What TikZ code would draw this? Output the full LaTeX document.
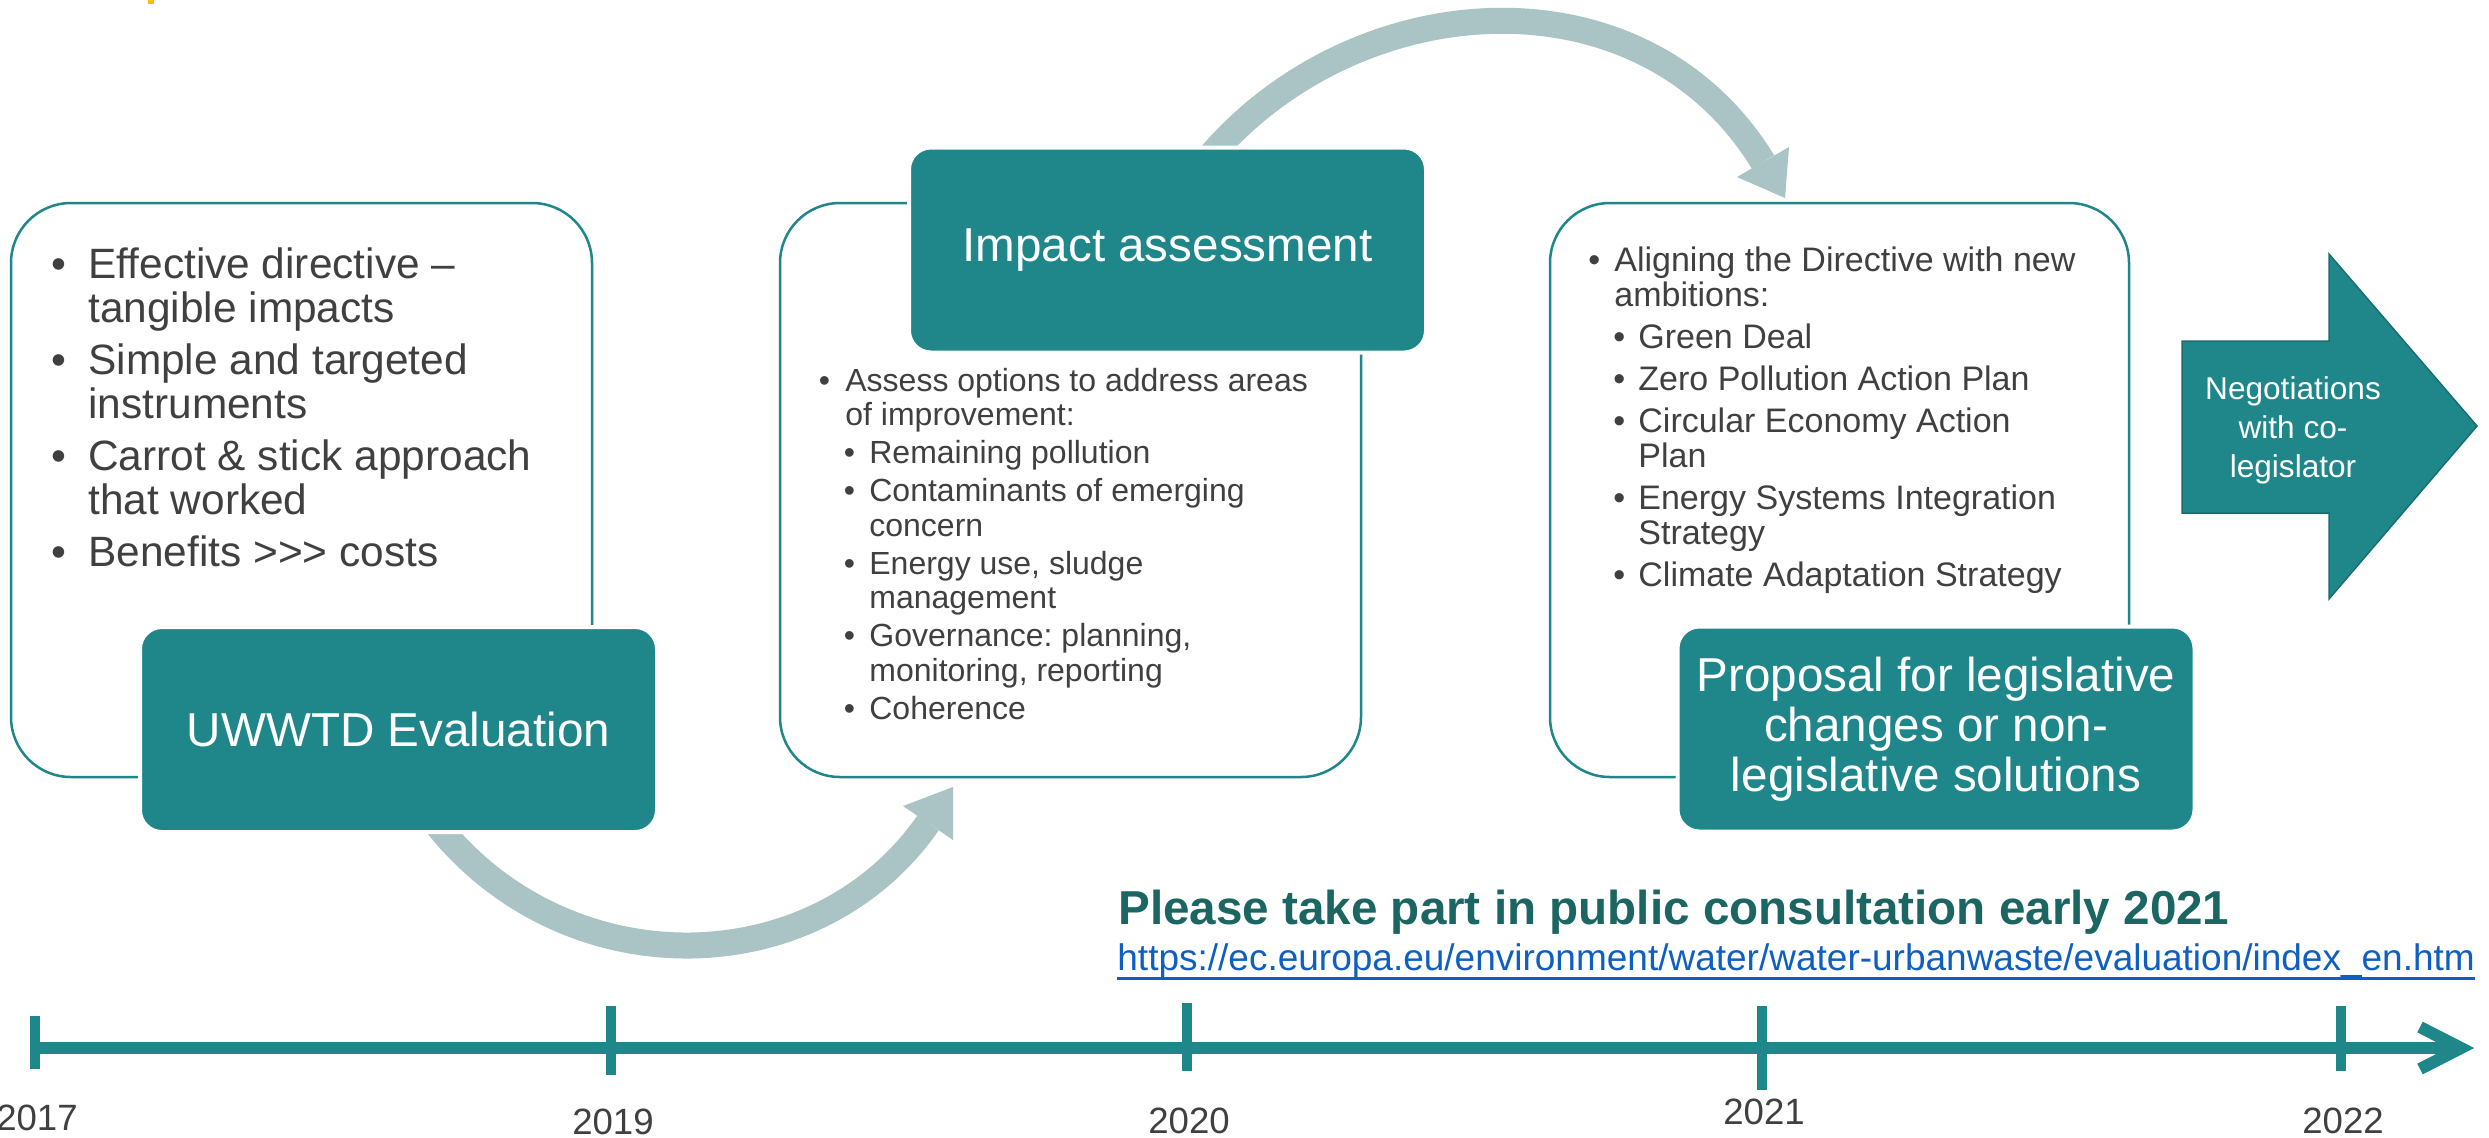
\documentclass[tikz,border=0pt]{standalone}
\usepackage{fontspec}
\setmainfont{Liberation Sans}
\definecolor{tealc}{HTML}{1F868A}
\definecolor{flowc}{HTML}{AAC3C4}
\definecolor{grayc}{HTML}{404040}
\definecolor{titlec}{HTML}{1B6563}
\definecolor{linkc}{HTML}{0F5FC2}
\definecolor{darktealc}{HTML}{1A6E70}
\definecolor{yellowc}{HTML}{FFC000}
\newcommand\bul[1]{\makebox[#1][l]{•}}
\begin{document}
\frenchspacing
\begin{tikzpicture}[x=0.5pt,y=-0.5pt,
  obox/.style={draw=tealc, line width=1.25pt, rounded corners=30pt, fill=white, inner sep=0pt},
  gbox/.style={fill=tealc, draw=white, line width=2pt, rounded corners=11pt,
    minimum width=258.5pt, minimum height=102.5pt, text=white,
    font=\fontsize{23.8pt}{25pt}\selectfont, align=center, inner sep=0pt},
  txt/.style={anchor=base west, inner sep=0pt, text=grayc},
  flow/.style={draw=flowc, line width=13pt},
  flowhead/.style={fill=flowc},
  tline/.style={draw=tealc, line width=6pt},
  tickln/.style={draw=tealc, line width=5pt},
  year/.style={anchor=base, inner sep=0pt, text=grayc, font=\fontsize{18.3pt}{20pt}\selectfont}]

\path[use as bounding box, fill=white] (0,0) rectangle (2489,1137);
\fill[yellowc] (148,0) rectangle (154,4);

% outline boxes
\node[obox, minimum width=290.5pt, minimum height=287pt] (b1) at (301.5,490) {};
\node[obox, minimum width=290.5pt, minimum height=287pt] (b2) at (1070.5,490) {};
\node[obox, minimum width=289.5pt, minimum height=287pt] (b3) at (1839.5,490) {};

% curved flow arrows
\coordinate (a1s) at (419,800);
\coordinate (a1b) at (928,823);
\coordinate (a1t) at (953,787);
\coordinate (a1l) at (903,806);
\coordinate (a1r) at (953,840);
\draw[flow] (a1s) .. controls (545,990) and (812,990) .. (a1b);
\fill[flowhead] (a1t) -- (a1l) -- (a1r) -- cycle;

\coordinate (a2s) at (1195,175);
\coordinate (a2b) at (1763,162);
\coordinate (a2t) at (1785,198);
\coordinate (a2l) at (1737,177);
\coordinate (a2r) at (1789,147);
\draw[flow] (a2s) .. controls (1338,-15) and (1639,-41) .. (a2b);
\fill[flowhead] (a2t) -- (a2l) -- (a2r) -- cycle;

% green boxes
\node[gbox] (g1) at (398.5,729.5) {UWWTD Evaluation};
\node[gbox] (g2) at (1167.5,250) {Impact assessment};
\node[gbox] (g3) at (1936,729) {Proposal for legislative\\changes or non-\\legislative solutions};

% box texts
\node[txt, font=\fontsize{21.2pt}{22pt}\selectfont] (t1) at (50.6,278) {\begin{tabular}[t]{@{}l@{}}
\bul{18.7pt}Effective directive –\\
\hspace*{18.7pt}tangible impacts\\[4pt]
\bul{18.7pt}Simple and targeted\\
\hspace*{18.7pt}instruments\\[4pt]
\bul{18.7pt}Carrot \& stick approach\\
\hspace*{18.7pt}that worked\\[4pt]
\bul{18.7pt}Benefits >{}>{}> costs
\end{tabular}};

\node[txt, font=\fontsize{16pt}{17.25pt}\selectfont] (t2) at (818.4,391) {\begin{tabular}[t]{@{}l@{}}
\bul{13.3pt}Assess options to address areas\\
\hspace*{13.3pt}of improvement:\\[1.75pt]
\hspace*{12.5pt}\bul{12.8pt}Remaining pollution\\[1.75pt]
\hspace*{12.5pt}\bul{12.8pt}Contaminants of emerging\\
\hspace*{25.3pt}concern\\[1.75pt]
\hspace*{12.5pt}\bul{12.8pt}Energy use, sludge\\
\hspace*{25.3pt}management\\[1.75pt]
\hspace*{12.5pt}\bul{12.8pt}Governance: planning,\\
\hspace*{25.3pt}monitoring, reporting\\[1.75pt]
\hspace*{12.5pt}\bul{12.8pt}Coherence
\end{tabular}};

\node[txt, font=\fontsize{17pt}{17.5pt}\selectfont] (t3) at (1588,271) {\begin{tabular}[t]{@{}l@{}}
\bul{13pt}Aligning the Directive with new\\
\hspace*{13pt}ambitions:\\[3.5pt]
\hspace*{12.5pt}\bul{12.5pt}Green Deal\\[3.5pt]
\hspace*{12.5pt}\bul{12.5pt}Zero Pollution Action Plan\\[3.5pt]
\hspace*{12.5pt}\bul{12.5pt}Circular Economy Action\\
\hspace*{25pt}Plan\\[3.5pt]
\hspace*{12.5pt}\bul{12.5pt}Energy Systems Integration\\
\hspace*{25pt}Strategy\\[3.5pt]
\hspace*{12.5pt}\bul{12.5pt}Climate Adaptation Strategy
\end{tabular}};

% negotiations arrow
\filldraw[fill=tealc, draw=darktealc, line width=0.75pt, line join=miter]
  (2182,341) -- (2329,341) -- (2329,254) -- (2477,426) -- (2329,599) -- (2329,513) -- (2182,513) -- cycle;
\node[inner sep=0pt, text=white, align=center, font=\fontsize{15.8pt}{19.5pt}\selectfont] (neg) at (2293,430) {Negotiations\\with co-\\legislator};

% consultation
\node[anchor=base west, inner sep=0pt, text=titlec, font=\fontsize{23.8pt}{26pt}\selectfont\bfseries] (title) at (1118,924) {Please take part in public consultation early 2021};
\node[anchor=base west, inner sep=0pt, text=linkc, font=\fontsize{18.5pt}{20pt}\selectfont] (url) at (1117,970) {https://ec.europa.eu/environment/water/water-urbanwaste/evaluation/index\_en.htm};
\draw[linkc, line width=1.75pt] ([yshift=-4.2pt]url.base west) -- ([yshift=-4.2pt]url.base east);

% timeline
\coordinate (tla) at (30,1048);
\coordinate (tlb) at (2458,1048);
\draw[tline] (tla) -- (tlb);
\draw[tline, line join=miter] (2420,1027) -- (2461,1048) -- (2420,1069);
\draw[tickln] (35,1016) -- (35,1069);
\draw[tickln] (611,1006) -- (611,1075);
\draw[tickln] (1187,1003) -- (1187,1071);
\draw[tickln] (1762,1006) -- (1762,1090);
\draw[tickln] (2341,1006) -- (2341,1071);
\node[year] (y2017) at (37,1130) {2017};
\node[year] (y2019) at (613,1134) {2019};
\node[year] (y2020) at (1189,1133) {2020};
\node[year] (y2021) at (1764,1124) {2021};
\node[year] (y2022) at (2343,1133) {2022};
\end{tikzpicture}
\end{document}
